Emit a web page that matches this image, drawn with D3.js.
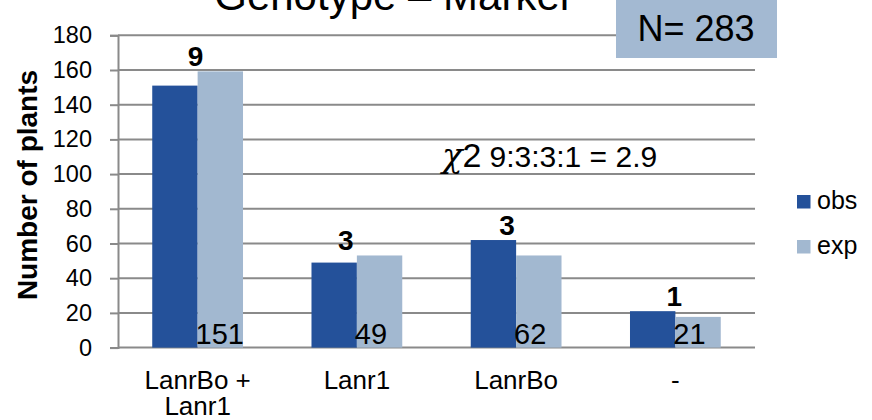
<!DOCTYPE html>
<html>
<head>
<meta charset="utf-8">
<script src="https://cdn.jsdelivr.net/npm/d3@7"></script>
<style>
  html, body { margin: 0; padding: 0; background: #fff; }
  svg { display: block; font-family: "Liberation Sans", Arial, sans-serif; }
</style>
</head>
<body>
<svg id="chart" width="872" height="420"></svg>
<script>
// Genotype classes and plant counts
const categories = ["LanrBo + Lanr1", "Lanr1", "LanrBo", "-"];
const categoryLines = [["LanrBo +", "Lanr1"], ["Lanr1"], ["LanrBo"], ["-"]];
const series = ["obs", "exp"];
const observed = [151, 49, 62, 21];
const expected = [159.2, 53.1, 53.1, 17.7];
const ratioLabels = ["9", "3", "3", "1"];
const yTicks = [0, 20, 40, 60, 80, 100, 120, 140, 160, 180];
const titleText = "Genotype \u2013 Marker";
const sampleText = "N= 283";
const chiRatio = "9:3:3:1 = 2.9";

const colors = { obs: "#24519a", exp: "#a2b8d0" };

const svg = d3.select("#chart");
const plotLeft = 118, plotRight = 755, plotTop = 35.3, plotBottom = 347.6;

const x0 = d3.scaleBand().domain(categories).range([plotLeft, plotRight])
  .paddingInner(0.43).paddingOuter(0.215);
const x1 = d3.scaleBand().domain(series).range([0, x0.bandwidth()]);
const y = d3.scaleLinear().domain([0, 180]).range([plotBottom, plotTop]);

// horizontal gridlines
svg.append("g").selectAll("line").data(yTicks.slice(1)).join("line")
  .attr("x1", plotLeft).attr("x2", plotRight)
  .attr("y1", d => y(d)).attr("y2", d => y(d))
  .attr("stroke", "#8a8a8a").attr("stroke-width", 2);

// y axis with outer ticks
const yAxis = svg.append("g").attr("transform", `translate(${plotLeft},0)`)
  .call(d3.axisLeft(y).tickValues(yTicks).tickSize(8).tickPadding(18));
yAxis.select(".domain").attr("stroke", "#8a8a8a").attr("stroke-width", 2);
yAxis.selectAll(".tick line").attr("stroke", "#8a8a8a").attr("stroke-width", 2);
yAxis.selectAll(".tick text").attr("font-size", 23.5).attr("fill", "#000")
  .attr("font-family", "Liberation Sans, Arial, sans-serif");

// bottom axis line
svg.append("line").attr("x1", plotLeft).attr("x2", plotRight)
  .attr("y1", y(0)).attr("y2", y(0))
  .attr("stroke", "#8a8a8a").attr("stroke-width", 2);

// bars
const rows = categories.map((c, i) => ({ cat: c, obs: observed[i], exp: expected[i] }));
const groups = svg.append("g").selectAll("g").data(rows).join("g")
  .attr("transform", d => `translate(${x0(d.cat)},0)`);
groups.selectAll("rect").data(d => series.map(s => ({ s, v: d[s] }))).join("rect")
  .attr("x", d => x1(d.s)).attr("width", x1.bandwidth())
  .attr("y", d => y(d.v)).attr("height", d => y(0) - y(d.v))
  .attr("fill", d => colors[d.s]);

// observed counts inside the expected bars
groups.append("text")
  .attr("x", x1("exp") - 2).attr("y", y(0) - 4)
  .attr("font-size", 29).attr("fill", "#000")
  .text(d => d.obs);

// segregation ratio above each group
const ratioShift = [-2, -11, -9, -1];
groups.append("text")
  .attr("x", (d, i) => x0.bandwidth() / 2 + ratioShift[i])
  .attr("y", d => y(Math.max(d.obs, d.exp)) - 5)
  .attr("text-anchor", "middle").attr("font-size", 28).attr("font-weight", "bold")
  .text((d, i) => ratioLabels[i]);

// category labels
const catG = svg.append("g").selectAll("text").data(categories).join("text")
  .attr("x", d => x0(d) + x0.bandwidth() / 2)
  .attr("y", 389).attr("text-anchor", "middle").attr("font-size", 26);
catG.selectAll("tspan").data((d, i) => categoryLines[i]).join("tspan")
  .attr("x", function () { return d3.select(this.parentNode).attr("x"); })
  .attr("dy", (d, i) => i === 0 ? 0 : 25.5)
  .text(d => d);

// y axis title
svg.append("text")
  .attr("transform", "translate(37,185) rotate(-90)")
  .attr("text-anchor", "middle").attr("font-size", 28).attr("font-weight", "bold")
  .text("Number of plants");

// title (partly above the top edge)
svg.append("text").attr("x", 394).attr("y", 9.5)
  .attr("text-anchor", "middle").attr("font-size", 42)
  .text(titleText);

// sample size box
svg.append("rect").attr("x", 616).attr("y", -2).attr("width", 161).attr("height", 60)
  .attr("fill", "#a3b9d2");
svg.append("text").attr("x", 696).attr("y", 41).attr("text-anchor", "middle")
  .attr("font-size", 36).text(sampleText);

// chi-square annotation
const chi = svg.append("text").attr("x", 442).attr("y", 166.5);
chi.append("tspan").attr("font-size", 34).attr("font-family", "DejaVu Serif, serif")
  .attr("font-style", "italic").text("\u03C7");
chi.append("tspan").attr("font-size", 34).text("2");
chi.append("tspan").attr("font-size", 30).attr("dx", 8).text(chiRatio);

// legend
const legend = svg.append("g").selectAll("g").data(series).join("g")
  .attr("transform", (d, i) => `translate(797,${195 + i * 45})`);
legend.append("rect").attr("width", 13.5).attr("height", 13.5).attr("fill", d => colors[d]);
legend.append("text").attr("x", 20).attr("y", 13.5).attr("font-size", 25).text(d => d);
</script>
</body>
</html>
